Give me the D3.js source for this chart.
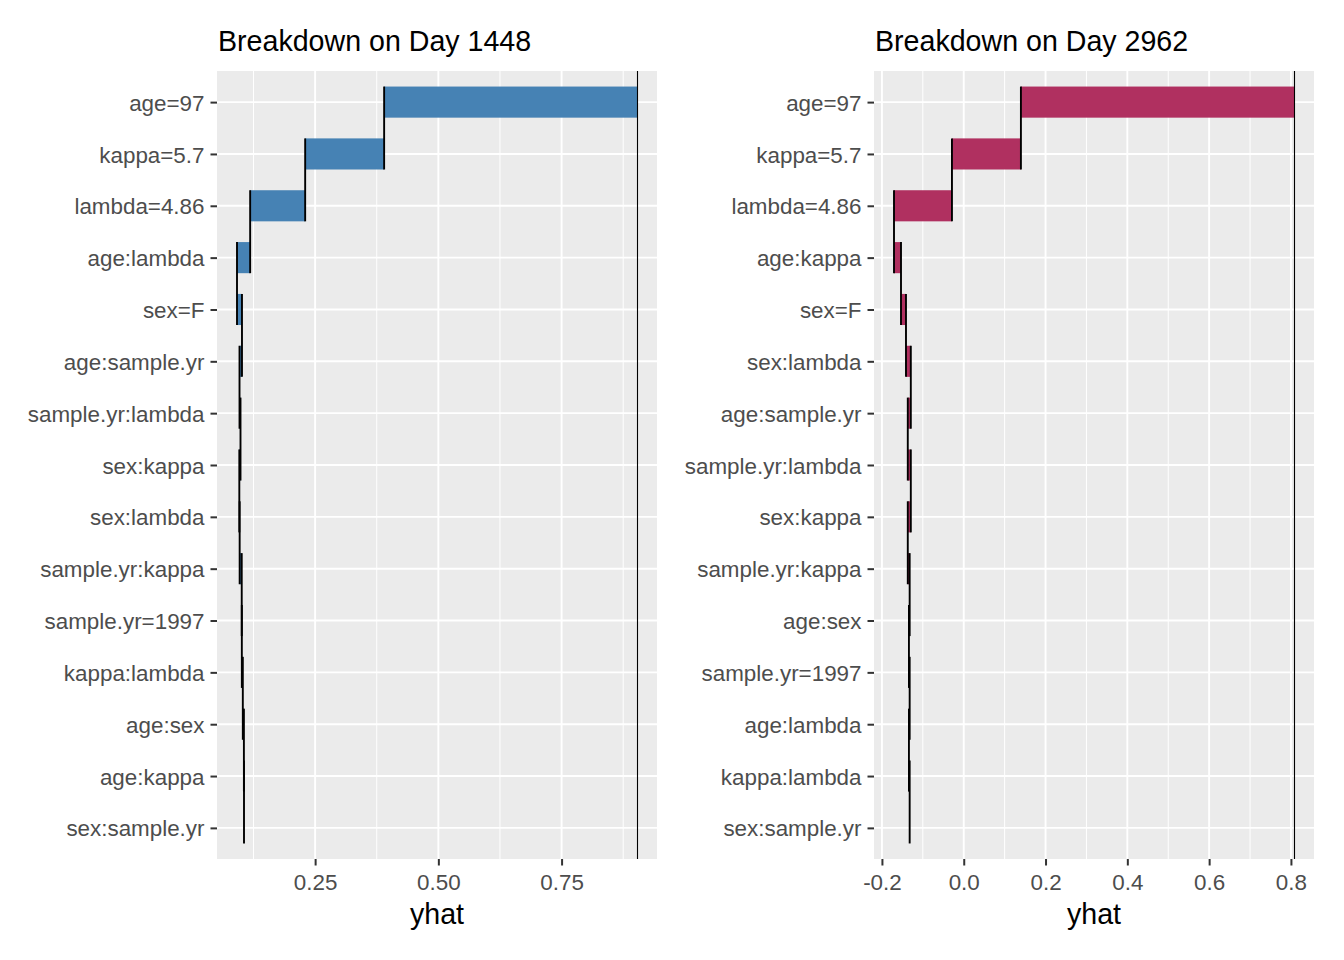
<!DOCTYPE html>
<html>
<head>
<meta charset="utf-8">
<script src="https://cdn.jsdelivr.net/npm/d3@7/dist/d3.min.js"></script>
<style>
  html, body { margin: 0; padding: 0; background: #ffffff; }
  svg { display: block; }
  text { font-family: "Liberation Sans", Arial, sans-serif; }
</style>
</head>
<body>
<svg id="chart" width="1344" height="960"></svg>
<script>
// ---------- data ----------
const title1 = "Breakdown on Day 1448";
const features1 = ["age=97","kappa=5.7","lambda=4.86","age:lambda","sex=F","age:sample.yr",
  "sample.yr:lambda","sex:kappa","sex:lambda","sample.yr:kappa","sample.yr=1997",
  "kappa:lambda","age:sex","age:kappa","sex:sample.yr"];
const contrib1 = [0.5130, 0.1602, 0.1116, 0.0267, -0.0101, 0.0050, -0.0020, 0.0024,
  -0.0007, -0.0042, -0.0002, -0.0020, -0.0022, -0.0002, -0.0001];
const intercept1 = 0.1058;
const ticks1 = [0.25, 0.50, 0.75];
const tickLabels1 = ["0.25", "0.50", "0.75"];

const title2 = "Breakdown on Day 2962";
const features2 = ["age=97","kappa=5.7","lambda=4.86","age:kappa","sex=F","sex:lambda",
  "age:sample.yr","sample.yr:lambda","sex:kappa","sample.yr:kappa","age:sex",
  "sample.yr=1997","age:lambda","kappa:lambda","sex:sample.yr"];
const contrib2 = [0.6677, 0.1686, 0.1417, -0.0171, -0.0122, -0.0118, 0.0074, -0.0074,
  0.0074, -0.0046, 0.0018, -0.0018, 0.0018, -0.0018, 0.0003];
const intercept2 = -0.1325;
const ticks2 = [-0.2, 0.0, 0.2, 0.4, 0.6, 0.8];
const tickLabels2 = ["-0.2", "0.0", "0.2", "0.4", "0.6", "0.8"];

const xTitle = "yhat";

// ---------- drawing ----------
const svg = d3.select("#chart");
const panelTop = 71, panelBottom = 859, panelW = 440;

function drawPanel(opts) {
  const { left, features, contrib, intercept, ticks, tickLabels, title, color } = opts;
  const right = left + panelW;
  const n = features.length;

  // cumulative (waterfall) from bottom row upward
  const rows = features.map((f, i) => ({ feature: f, value: contrib[i] }));
  let cum = intercept;
  for (let i = n - 1; i >= 0; i--) {
    rows[i].start = cum;
    cum = cum + rows[i].value;
    rows[i].end = cum;
  }
  const prediction = rows[0].end;

  const allVals = rows.flatMap(r => [r.start, r.end]).concat([prediction]);
  const lo = d3.min(allVals), hi = d3.max(allVals);
  const ex = (hi - lo) * 0.05;
  const x = d3.scaleLinear().domain([lo - ex, hi + ex]).range([left, right]);
  const y = d3.scalePoint().domain(features).range([panelTop, panelBottom]).padding(0.6);
  const step = y.step();
  const bh = step * 0.6;

  const g = svg.append("g");

  // panel background
  g.append("rect").attr("x", left).attr("y", panelTop)
    .attr("width", panelW).attr("height", panelBottom - panelTop)
    .attr("fill", "#EBEBEB");

  // minor grid
  const tstep = ticks[1] - ticks[0];
  const minor = [];
  for (let i = -1; i < ticks.length; i++) {
    const m = (i < 0 ? ticks[0] - tstep / 2 : ticks[i] + tstep / 2);
    const [d0, d1] = x.domain();
    if (m > d0 && m < d1) minor.push(m);
  }
  g.selectAll(".minor").data(minor).join("line")
    .attr("x1", d => x(d)).attr("x2", d => x(d))
    .attr("y1", panelTop).attr("y2", panelBottom)
    .attr("stroke", "#ffffff").attr("stroke-width", 1.0);

  // major grid vertical
  g.selectAll(".majorx").data(ticks).join("line")
    .attr("x1", d => x(d)).attr("x2", d => x(d))
    .attr("y1", panelTop).attr("y2", panelBottom)
    .attr("stroke", "#ffffff").attr("stroke-width", 1.9);

  // major grid horizontal
  g.selectAll(".majory").data(features).join("line")
    .attr("x1", left).attr("x2", right)
    .attr("y1", d => y(d)).attr("y2", d => y(d))
    .attr("stroke", "#ffffff").attr("stroke-width", 1.9);

  // bars
  g.selectAll(".bar").data(rows).join("rect")
    .attr("x", d => x(Math.min(d.start, d.end)))
    .attr("width", d => Math.abs(x(d.end) - x(d.start)))
    .attr("y", d => y(d.feature) - bh / 2)
    .attr("height", bh)
    .attr("fill", color);

  // connectors: start of row i == end of row i+1
  const conns = [];
  for (let i = 0; i < n - 1; i++) {
    conns.push({ v: rows[i].start, y1: y(rows[i].feature) - bh / 2, y2: y(rows[i + 1].feature) + bh / 2 });
  }
  g.selectAll(".conn").data(conns).join("line")
    .attr("x1", d => x(d.v)).attr("x2", d => x(d.v))
    .attr("y1", d => d.y1).attr("y2", d => d.y2)
    .attr("stroke", "#000000").attr("stroke-width", 1.9);

  // prediction line
  const px = Math.round(x(prediction)) + 0.5;
  g.append("line")
    .attr("x1", px).attr("x2", px)
    .attr("y1", panelTop).attr("y2", panelBottom)
    .attr("stroke", "#000000").attr("stroke-width", 1.1);

  // x axis
  const xAxis = d3.axisBottom(x).tickValues(ticks)
    .tickFormat((d, i) => tickLabels[i]).tickSize(6.5).tickPadding(4).tickSizeOuter(0);
  const ga = g.append("g").attr("transform", `translate(0,${panelBottom})`).call(xAxis);
  ga.select(".domain").remove();
  ga.selectAll(".tick line").attr("stroke", "#333333").attr("stroke-width", 2);
  ga.selectAll(".tick text").attr("fill", "#4D4D4D")
    .style("font-family", '"Liberation Sans", Arial, sans-serif')
    .style("font-size", "22.4px").attr("dy", null).attr("y", 31);

  // y axis
  const yAxis = d3.axisLeft(y).tickSize(6.5).tickPadding(6).tickSizeOuter(0);
  const gy = g.append("g").attr("transform", `translate(${left},0)`).call(yAxis);
  gy.select(".domain").remove();
  gy.selectAll(".tick line").attr("stroke", "#333333").attr("stroke-width", 2);
  gy.selectAll(".tick text").attr("fill", "#4D4D4D")
    .style("font-family", '"Liberation Sans", Arial, sans-serif')
    .style("font-size", "22.4px").attr("dy", "0.36em");

  // title
  g.append("text").attr("x", left + 1).attr("y", 51)
    .attr("fill", "#000000").style("font-size", "28.6px").text(title);

  // x title
  g.append("text").attr("x", (left + right) / 2).attr("y", 924)
    .attr("text-anchor", "middle").attr("fill", "#000000")
    .style("font-size", "28.6px").text(xTitle);
}

drawPanel({ left: 217, features: features1, contrib: contrib1, intercept: intercept1,
  ticks: ticks1, tickLabels: tickLabels1, title: title1, color: "#4682B4" });
drawPanel({ left: 874, features: features2, contrib: contrib2, intercept: intercept2,
  ticks: ticks2, tickLabels: tickLabels2, title: title2, color: "#B03060" });
</script>
</body>
</html>
